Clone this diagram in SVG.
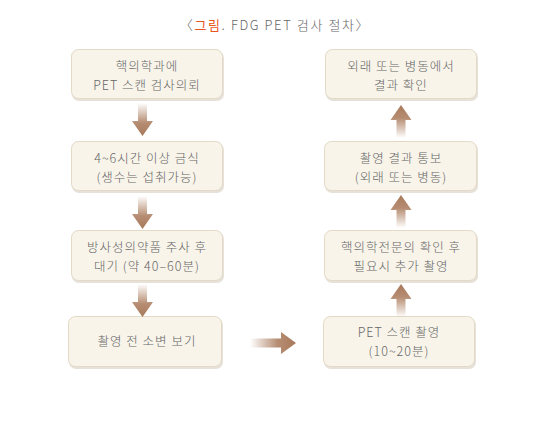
<svg xmlns="http://www.w3.org/2000/svg" width="550" height="434" viewBox="0 0 550 434">
<style>
.box{fill:#f8f4ea;stroke:#e3d9c6;stroke-width:1}
.sh{fill:#e6e2da}
.t{font-family:"Noto Sans CJK KR","Noto Sans",sans-serif;font-size:12.5px;font-weight:300;letter-spacing:1px;fill:#666;text-anchor:middle}
.title{font-family:"Noto Sans CJK KR","Noto Sans",sans-serif;font-size:13px;font-weight:300;letter-spacing:1.6px;fill:#666;text-anchor:middle}
</style>
<defs>
<linearGradient id="gd" x1="0" y1="0" x2="0" y2="1"><stop offset="0" stop-color="#a9795a" stop-opacity="0"/><stop offset="0.6" stop-color="#a9795a" stop-opacity="0.85"/><stop offset="1" stop-color="#a9795a"/></linearGradient>
<linearGradient id="gu" x1="0" y1="1" x2="0" y2="0"><stop offset="0" stop-color="#a9795a" stop-opacity="0"/><stop offset="0.6" stop-color="#a9795a" stop-opacity="0.85"/><stop offset="1" stop-color="#a9795a"/></linearGradient>
<linearGradient id="gr" x1="0" y1="0" x2="1" y2="0"><stop offset="0" stop-color="#a9795a" stop-opacity="0"/><stop offset="0.6" stop-color="#a9795a" stop-opacity="0.85"/><stop offset="1" stop-color="#a9795a"/></linearGradient>
<path id="ad" d="M-4.5,0 H4.5 V18 H10.5 L0,33 L-10.5,18 H-4.5 Z"/>
<path id="au" d="M-4.5,0 H4.5 V-18 H10.5 L0,-33 L-10.5,-18 H-4.5 Z"/>
</defs>
<text class="title" x="275" y="30"><tspan>〈</tspan><tspan fill="#e8541e" font-weight="400">그림</tspan><tspan>. FDG PET 검사 절차〉</tspan></text>
<g id="n1"><rect class="sh" x="72" y="51" width="152" height="50" rx="7"/><rect class="box" x="71.5" y="49.5" width="151" height="49" rx="7"/><text class="t" x="147" y="71">핵의학과에</text><text class="t" x="147" y="89.5">PET 스캔 검사의뢰</text></g>
<g id="n2"><rect class="sh" x="72" y="143" width="152" height="50" rx="7"/><rect class="box" x="71.5" y="141.5" width="151" height="49" rx="7"/><text class="t" x="147" y="163">4~6시간 이상 금식</text><text class="t" x="147" y="181.5">(생수는 섭취가능)</text></g>
<g id="n3"><rect class="sh" x="72" y="232" width="152" height="51" rx="7"/><rect class="box" x="71.5" y="230.5" width="151" height="50" rx="7"/><text class="t" x="147" y="252">방사성의약품 주사 후</text><text class="t" x="147" y="270.5">대기 (약 40–60분)</text></g>
<g id="n4"><rect class="sh" x="69" y="318" width="154" height="51" rx="7"/><rect class="box" x="68.5" y="316.5" width="153" height="50" rx="7"/><text class="t" x="147" y="346">촬영 전 소변 보기</text></g>
<g id="n5"><rect class="sh" x="324" y="318" width="152" height="51" rx="7"/><rect class="box" x="323.5" y="316.5" width="151" height="50" rx="7"/><text class="t" x="399" y="337">PET 스캔 촬영</text><text class="t" x="399" y="355.5">(10~20분)</text></g>
<g id="n6"><rect class="sh" x="325" y="232" width="153" height="51" rx="7"/><rect class="box" x="324.5" y="230.5" width="152" height="50" rx="7"/><text class="t" x="401" y="252">핵의학전문의 확인 후</text><text class="t" x="401" y="270.5">필요시 추가 촬영</text></g>
<g id="n7"><rect class="sh" x="325" y="143" width="153" height="50" rx="7"/><rect class="box" x="324.5" y="141.5" width="152" height="49" rx="7"/><text class="t" x="401" y="163">촬영 결과 통보</text><text class="t" x="401" y="181.5">(외래 또는 병동)</text></g>
<g id="n8"><rect class="sh" x="326" y="51" width="152" height="50" rx="7"/><rect class="box" x="325.5" y="49.5" width="151" height="49" rx="7"/><text class="t" x="401" y="71">외래 또는 병동에서</text><text class="t" x="401" y="89.5">결과 확인</text></g>
<g id="connectors">
<use href="#ad" x="142.5" y="103" fill="url(#gd)"/>
<use href="#ad" x="142.5" y="196" fill="url(#gd)"/>
<use href="#ad" x="142.5" y="284" fill="url(#gd)"/>
<path d="M250,338.5 V347.5 H281 V354 L296,343 L281,332 V338.5 Z" fill="url(#gr)"/>
<use href="#au" x="401" y="317" fill="url(#gu)"/>
<use href="#au" x="401" y="228" fill="url(#gu)"/>
<use href="#au" x="401" y="138" fill="url(#gu)"/>
</g>
</svg>
